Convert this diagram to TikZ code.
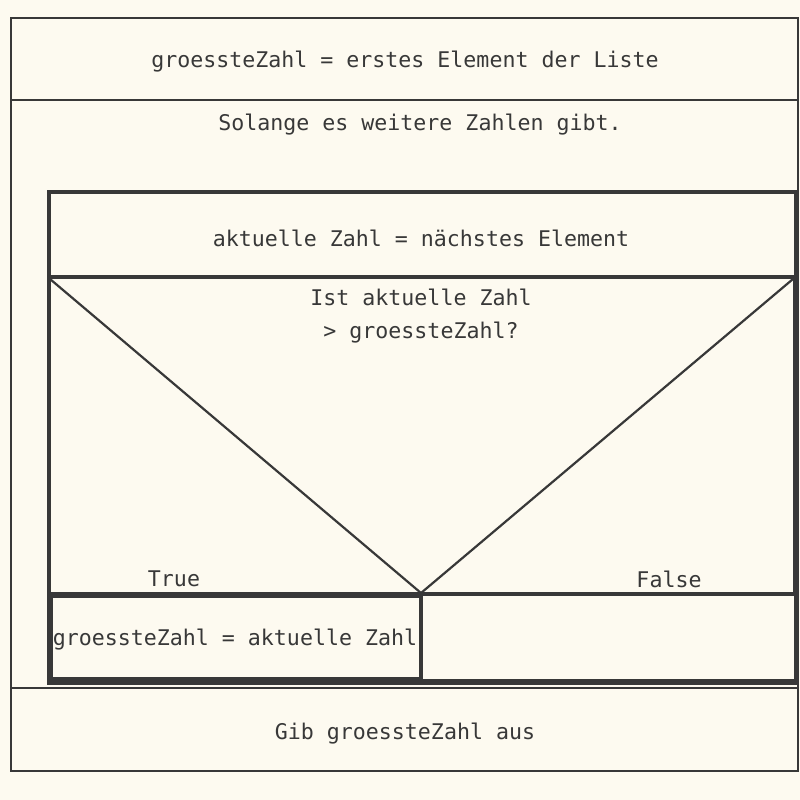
\documentclass[tikz,border=0pt]{standalone}
\usepackage{fontspec}
\setmonofont{DejaVu Sans Mono}
\definecolor{bg}{HTML}{FDFAF0}
\definecolor{ln}{HTML}{383838}
\begin{document}
\begin{tikzpicture}[x=1pt,y=-1pt,
  box/.style={draw=ln,line width=2.6pt},
  thickbox/.style={draw=ln,line width=4pt},
  diag/.style={draw=ln,line width=2.2pt},
  txt/.style={font=\ttfamily\fontsize{21.6}{33}\selectfont,text=ln,inner sep=0pt,align=center}]
\fill[bg] (0,0) rectangle (800,800);
\useasboundingbox (0,0) rectangle (800,800);
% boxes
\draw[box] (11,18) rectangle (798,100);
\draw[box] (11,100) rectangle (798,688);
\draw[thickbox] (48.5,191.5) rectangle (795.5,683);
\draw[box] (49,192) rectangle (795,277);
\draw[thickbox] (49,277) rectangle (795,594);
\draw[box] (49,277) rectangle (795,681);
\draw[thickbox] (51,595.5) rectangle (420.5,679);
\draw[box] (421,594) rectangle (795,680);
\draw[box] (11,688) rectangle (798,771);
% decision diagonals
\coordinate (tl) at (50,279);
\coordinate (tr) at (793,279);
\coordinate (bm) at (421,593);
\draw[diag] (tl) -- (bm) -- (tr);
% texts
\node[txt] (t1) at (405,62) {groessteZahl = erstes Element der Liste};
\node[txt] (t2) at (420,125) {Solange es weitere Zahlen gibt.};
\node[txt] (t3) at (421,238) {aktuelle Zahl = nächstes Element};
\node[txt] (t4) at (421,316) {Ist aktuelle Zahl\\> groessteZahl?};
\node[txt] (t5) at (174,579) {True};
\node[txt] (t6) at (669,579) {False};
\node[txt] (t7) at (235,640) {groessteZahl = aktuelle Zahl};
\node[txt] (t8) at (405,734) {Gib groessteZahl aus};
\end{tikzpicture}
\end{document}
